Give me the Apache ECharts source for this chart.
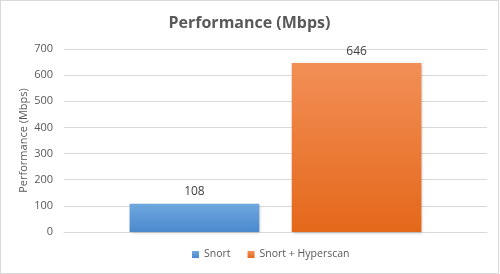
<!DOCTYPE html>
<html><head><meta charset="utf-8">
<script src="https://cdn.jsdelivr.net/npm/echarts@6/dist/echarts.min.js"></script>
<style>html,body{margin:0;padding:0;background:#fff}#c{width:497px;height:272px;border:1px solid #d9d9d9}</style>
</head><body><div id="c"></div>
<script>
const categories = ['Performance'];
const seriesNames = ['Snort', 'Snort + Hyperscan'];
const snort = [108];
const hyperscan = [646];
const yTicks = [0, 100, 200, 300, 400, 500, 600, 700];

const chart = echarts.init(document.getElementById('c'));
const grad = (a, b) => new echarts.graphic.LinearGradient(0, 0, 0, 1, [{offset: 0, color: a}, {offset: 1, color: b}]);
const font = '"Open Sans", "Noto Sans", sans-serif';
chart.setOption({
  animation: false,
  textStyle: {fontFamily: font},
  title: {text: 'Performance (Mbps)', left: 'center', top: 9,
    textStyle: {fontSize: 16, fontWeight: 'bold', color: '#595959', fontFamily: font}},
  grid: {left: 63, right: 11, top: 48, bottom: 41, containLabel: false},
  legend: {bottom: 8, left: 186, itemWidth: 7, itemHeight: 7, itemGap: 17, icon: 'rect',
    textStyle: {fontSize: 10.5, color: '#595959'}, data: seriesNames},
  xAxis: {type: 'category', data: categories, axisLine: {lineStyle: {color: '#d9d9d9'}}, axisTick: {show: false}, axisLabel: {show: false}},
  yAxis: {type: 'value', min: yTicks[0], max: yTicks[yTicks.length - 1], interval: 100,
    name: 'Performance (Mbps)', nameLocation: 'middle', nameGap: 35, nameMoveOverlap: false,
    nameTextStyle: {fontSize: 11, color: '#595959'},
    axisLabel: {fontSize: 11, color: '#595959', margin: 11},
    axisLine: {show: false}, axisTick: {show: false},
    splitLine: {lineStyle: {color: '#d9d9d9'}}},
  series: [
    {name: seriesNames[0], type: 'bar', data: snort, barGap: '25%', barCategoryGap: '31%',
      itemStyle: {color: grad('#70a8df', '#4a89cd'), shadowColor: 'rgba(0,0,0,0.25)', shadowBlur: 3, shadowOffsetX: 1, shadowOffsetY: 1},
      label: {show: true, position: 'top', distance: 6, fontSize: 12, color: '#404040'}},
    {name: seriesNames[1], type: 'bar', data: hyperscan,
      itemStyle: {color: grad('#f28f56', '#e4681a'), shadowColor: 'rgba(0,0,0,0.25)', shadowBlur: 3, shadowOffsetX: 1, shadowOffsetY: 1},
      label: {show: true, position: 'top', distance: 6, fontSize: 12, color: '#404040'}}
  ]
});
</script></body></html>
